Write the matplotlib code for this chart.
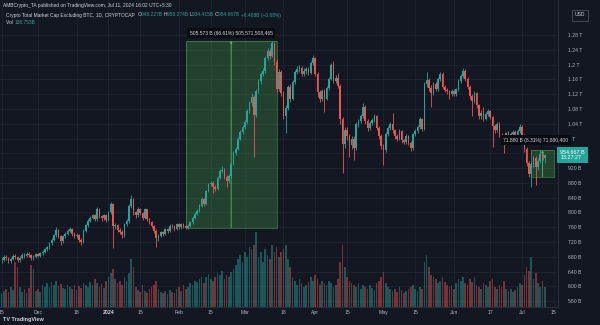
import matplotlib
matplotlib.use("Agg")
import matplotlib.pyplot as plt
from matplotlib.patches import Rectangle
from matplotlib.transforms import IdentityTransform, blended_transform_factory
import numpy as np
import pandas as pd

plt.rcParams['font.family'] = ['Liberation Sans', 'DejaVu Sans']

# daily candles of TOTAL2, values in billions of USD
start_date = "2023-11-15"
first_open = 670.0
closes = [
    672, 680, 676, 668, 674, 683, 679, 671, 677, 685,
    681, 688, 684, 676, 680, 687, 683, 690, 694, 700,
    706, 716, 726, 738, 752, 736, 722, 735, 742, 750,
    755, 742, 735, 738, 726, 720, 750, 765, 778, 786,
    792, 782, 808, 790, 784, 792, 780, 800, 822, 762,
    766, 752, 748, 738, 768, 776, 818, 836, 800, 792,
    810, 798, 786, 808, 782, 774, 763, 750, 730, 737,
    746, 742, 754, 750, 764, 762, 756, 768, 760, 768,
    762, 759, 764, 773, 786, 796, 804, 818, 836, 824,
    858, 876, 880, 868, 864, 894, 912, 916, 896, 886,
    898, 932, 960, 972, 1000, 1018, 1030, 1044, 1075, 1095,
    1112, 1064, 1128, 1155, 1175, 1183, 1218, 1238, 1224, 1258,
    1208, 1135, 1180, 1122, 1062, 1082, 1140, 1108, 1152, 1180,
    1188, 1190, 1175, 1182, 1188, 1178, 1205, 1218, 1176, 1125,
    1108, 1128, 1108, 1136, 1162, 1198, 1156, 1165, 1142, 1052,
    985, 1022, 1006, 982, 1000, 975, 1038, 1048, 1060, 1086,
    1048, 1028, 1042, 1050, 1060, 1028, 1008, 980, 970, 1012,
    1028, 1040, 1022, 1006, 1000, 1020, 995, 990, 1006, 988,
    974, 1012, 1020, 1032, 1052, 1026, 1148, 1158, 1138, 1124,
    1148, 1134, 1162, 1175, 1140, 1132, 1128, 1120, 1129, 1120,
    1133, 1156, 1170, 1183, 1162, 1140, 1115, 1102, 1122, 1090,
    1060, 1070, 1054, 1066, 1074, 1058, 1034, 1022, 1040, 1010,
    1005, 996, 1014, 1002, 1012, 1018, 1006, 1020, 1032, 1008,
    972, 935, 905, 930, 948, 922, 940, 958, 948.227, 954.667,
]
highs = [
    678, 685, 686, 679, 678, 688, 687, 682, 681, 690,
    689, 693, 692, 687, 684, 691, 690, 694, 698, 704,
    710, 720, 731, 742, 760, 756, 740, 739, 747, 754,
    761, 758, 746, 743, 741, 730, 754, 769, 782, 790,
    797, 796, 814, 811, 794, 797, 795, 804, 828, 826,
    772, 770, 758, 752, 772, 781, 822, 847, 840, 805,
    815, 813, 802, 812, 810, 786, 778, 767, 754, 742,
    750, 751, 758, 758, 768, 769, 766, 772, 771, 772,
    771, 766, 768, 777, 790, 800, 809, 822, 841, 840,
    862, 881, 886, 884, 874, 898, 917, 925, 920, 900,
    903, 936, 965, 978, 1005, 1024, 1036, 1050, 1080, 1101,
    1122, 1118, 1134, 1160, 1181, 1192, 1224, 1244, 1246, 1264,
    1262, 1214, 1188, 1186, 1128, 1090, 1146, 1148, 1158, 1186,
    1196, 1198, 1196, 1190, 1194, 1193, 1211, 1226, 1222, 1180,
    1132, 1134, 1134, 1141, 1167, 1204, 1210, 1172, 1178, 1148,
    1058, 1030, 1032, 1012, 1008, 1006, 1044, 1054, 1066, 1095,
    1090, 1054, 1048, 1056, 1066, 1064, 1034, 1013, 986, 1017,
    1034, 1046, 1069, 1027, 1012, 1025, 1024, 1000, 1011, 1010,
    992, 1016, 1025, 1037, 1057, 1056, 1154, 1180, 1164, 1145,
    1153, 1154, 1167, 1181, 1179, 1146, 1137, 1132, 1134, 1134,
    1138, 1161, 1176, 1190, 1187, 1166, 1145, 1120, 1128, 1126,
    1094, 1076, 1085, 1072, 1080, 1078, 1062, 1040, 1045, 1044,
    1016, 1010, 1019, 1020, 1017, 1023, 1022, 1025, 1038, 1036,
    1012, 976, 940, 936, 954, 952, 946, 968, 962, 958.274,
]
lows = [
    664, 668, 670, 662, 664, 670, 674, 665, 667, 673,
    676, 678, 679, 671, 672, 677, 679, 680, 686, 690,
    696, 702, 712, 722, 734, 730, 712, 718, 731, 738,
    746, 737, 730, 731, 721, 712, 716, 746, 761, 773,
    781, 776, 778, 785, 778, 780, 775, 776, 796, 703,
    754, 747, 742, 732, 734, 763, 772, 812, 794, 786,
    788, 793, 780, 782, 777, 768, 758, 745, 706, 724,
    733, 737, 738, 745, 746, 757, 751, 752, 755, 756,
    758, 754, 755, 760, 769, 782, 792, 800, 814, 818,
    820, 854, 871, 852, 858, 860, 890, 907, 890, 869,
    881, 894, 928, 955, 968, 995, 1012, 1025, 1040, 1068,
    1088, 950, 1058, 1122, 1148, 1168, 1178, 1212, 1216, 1220,
    1198, 1125, 1130, 1115, 1052, 1015, 1076, 1100, 1104, 1148,
    1174, 1180, 1168, 1170, 1176, 1172, 1174, 1200, 1168, 1112,
    1100, 1102, 1072, 1103, 1132, 1158, 1150, 1150, 1136, 1040,
    906, 975, 995, 950, 972, 942, 968, 1030, 1042, 1055,
    1040, 1020, 1022, 1036, 1044, 1022, 1000, 972, 928, 964,
    1006, 1022, 1016, 1000, 994, 995, 989, 984, 985, 982,
    966, 968, 1006, 1015, 1027, 1020, 1022, 1140, 1130, 1085,
    1118, 1128, 1130, 1156, 1134, 1126, 1120, 1108, 1115, 1115,
    1116, 1128, 1150, 1165, 1156, 1134, 1108, 1060, 1096, 1084,
    1052, 1054, 1048, 1049, 1060, 1052, 977, 1015, 1017, 1004,
    998, 961, 990, 996, 997, 1006, 1000, 1001, 1015, 1002,
    964, 926, 896, 869, 924, 874, 916, 935, 942, 934.415,
]
volumes = [
    98, 112, 126, 105, 140, 119, 315, 280, 140, 105,
    126, 98, 133, 294, 266, 112, 126, 105, 154, 140,
    168, 140, 175, 154, 182, 147, 161, 133, 126, 154,
    140, 126, 154, 119, 147, 133, 168, 154, 140, 175,
    154, 196, 168, 140, 161, 133, 182, 210, 238, 266,
    196, 168, 182, 154, 210, 182, 238, 336, 280, 140,
    119, 105, 154, 112, 98, 126, 140, 154, 182, 126,
    105, 98, 112, 91, 119, 105, 98, 126, 140, 112,
    154, 126, 140, 168, 154, 182, 175, 196, 210, 168,
    210, 231, 196, 182, 210, 238, 224, 252, 196, 224,
    210, 245, 266, 294, 336, 364, 315, 385, 350, 420,
    406, 434, 525, 350, 385, 315, 406, 364, 336, 434,
    385, 420, 350, 385, 406, 434, 336, 280, 210, 182,
    154, 196, 168, 140, 154, 175, 210, 182, 224, 196,
    154, 182, 168, 154, 182, 168, 140, 154, 196, 315,
    434, 280, 210, 182, 168, 154, 140, 168, 126, 154,
    140, 126, 154, 133, 119, 168, 182, 210, 245, 168,
    140, 126, 112, 126, 105, 140, 119, 98, 112, 126,
    140, 154, 126, 112, 140, 126, 315, 364, 280, 224,
    210, 196, 168, 182, 210, 175, 154, 140, 154, 126,
    168, 196, 182, 210, 168, 154, 196, 175, 210, 154,
    140, 126, 168, 154, 140, 182, 196, 140, 126, 154,
    140, 182, 126, 112, 126, 105, 119, 140, 168, 154,
    224, 280, 252, 350, 196, 238, 168, 140, 182, 138.753,
]

# 960 B sits under the last-price tag, so it has no visible label
price_ticks = [560, 600, 640, 680, 720, 760, 800, 840, 880, 920,
               960, 1000, 1040, 1080, 1120, 1160, 1200, 1240, 1280]
price_labels = ["560 B", "600 B", "640 B", "680 B", "720 B", "760 B", "800 B",
                "840 B", "880 B", "920 B", "", "1 T", "1.04 T", "1.08 T",
                "1.12 T", "1.16 T", "1.2 T", "1.24 T", "1.28 T"]
tick_dates = ["2023-11-15", "2023-12-01", "2023-12-18", "2024-01-01", "2024-01-15",
              "2024-02-01", "2024-02-15", "2024-03-01", "2024-03-18", "2024-04-01",
              "2024-04-15", "2024-05-01", "2024-05-15", "2024-06-01", "2024-06-17",
              "2024-07-01", "2024-07-15"]
tick_labels = ["15", "Dec", "18", "2024", "15", "Feb", "15", "Mar", "18", "Apr",
               "15", "May", "15", "Jun", "17", "Jul", "15"]

# price range measurements drawn on the chart
range_starts = ["2024-02-04", "2024-07-05"]
range_ends = ["2024-03-15", "2024-07-15"]
range_lows = [758.9, 896.4]
range_highs = [1264.5, 968.3]
range_labels = ["505.573 B (66.61%) 505,571,508,465", "71.880 B (8.31%) 71,880,400"]

last_price = 954.667
last_vol = "138.753B"

up_color = "#26a69a"
down_color = "#ef5350"
bg = "#131722"
grid_color = "#1f2330"
text_color = "#b2b5be"
W, H = 600, 325

dates = pd.date_range(start_date, periods=len(closes), freq="D")
x = np.asarray((dates - dates[0]).days, dtype=float)
c = np.array(closes, dtype=float)
o = np.concatenate([[first_open], c[:-1]])
h = np.array(highs, dtype=float)
l = np.array(lows, dtype=float)
colors = np.where(c >= o, up_color, down_color)


def day_pos(d):
    return (pd.Timestamp(d) - dates[0]).days


fig = plt.figure(figsize=(W / 100, H / 100), dpi=100, facecolor=bg)
ax = fig.add_axes([0, 18 / H, 558 / W, 307 / H])
vax = ax.twinx()
ax.set_zorder(vax.get_zorder() + 1)
ax.patch.set_visible(False)
vax.set_facecolor(bg)

ax.set_xlim(-0.7, 244.8)
ax.set_ylim(544, 1375)

# grid (drawn on the lower axes so it sits under the volume bars)
tick_x = [day_pos(d) for d in tick_dates]
hgrid = blended_transform_factory(vax.transAxes, ax.transData)
vax.hlines(price_ticks, 0, 1, transform=hgrid, color=grid_color, lw=0.6, zorder=0)
for tx in tick_x:
    vax.axvline(tx, color=grid_color, lw=0.6, zorder=0)

# volume
vax.bar(x, volumes, width=0.72, color=colors, alpha=0.45, linewidth=0, zorder=1)
vax.set_ylim(0, 307 * 7)
vax.set_yticks([])
for s in vax.spines.values():
    s.set_visible(False)

# range boxes
for s0, s1, lo, hi in zip(range_starts, range_ends, range_lows, range_highs):
    x0, x1 = day_pos(s0), day_pos(s1)
    ax.add_patch(Rectangle((x0, lo), x1 - x0, hi - lo, facecolor="#4caf50", alpha=0.28,
                           edgecolor="none", zorder=2))
    ax.add_patch(Rectangle((x0, lo), x1 - x0, hi - lo, facecolor="none",
                           edgecolor="#4caf50", alpha=0.6, lw=0.6, zorder=2))
    xm = (x0 + x1) / 2
    ax.annotate("", xy=(xm, hi), xytext=(xm, lo),
                arrowprops=dict(arrowstyle="-|>", color="#5cb860", lw=0.6,
                                mutation_scale=3, shrinkA=0, shrinkB=0), zorder=2)

ax.text((day_pos(range_starts[0]) + day_pos(range_ends[0])) / 2, 1285, range_labels[0],
        ha="center", va="center", fontsize=3.6, color="#d1d4dc", zorder=6,
        bbox=dict(boxstyle="square,pad=0.5", fc="#0b0d13", ec="none"))
ax.text((day_pos(range_starts[1]) + day_pos(range_ends[1])) / 2 - 3, 995, range_labels[1],
        ha="center", va="center", fontsize=3.6, color="#d1d4dc", zorder=6, clip_on=False,
        bbox=dict(boxstyle="square,pad=0.5", fc="#0b0d13", ec="none"))

# candles
ax.vlines(x, l, h, colors=colors, lw=0.6, zorder=3)
ax.bar(x, np.maximum(np.abs(c - o), 1.5), bottom=np.minimum(o, c), width=0.72,
       color=colors, linewidth=0, zorder=4)

# axes styling
ax.yaxis.tick_right()
ax.set_yticks(price_ticks, price_labels)
ax.tick_params(axis="y", length=0, pad=7, labelsize=3.7, labelcolor=text_color)
ax.set_xticks(tick_x, tick_labels)
ax.tick_params(axis="x", length=0, pad=2.5, labelsize=3.7, labelcolor=text_color)
for lab in ax.get_xticklabels():
    if lab.get_text() == "2024":
        lab.set_fontweight("bold")
        lab.set_color("#d1d4dc")
for name, s in ax.spines.items():
    s.set_visible(name in ("right", "bottom"))
    s.set_color("#2a2e39")
    s.set_linewidth(0.8)

# last price tag on the price scale
tag = blended_transform_factory(ax.transAxes, ax.transData)
ax.text(1.004, last_price, f"{last_price:.3f} B\n13:27:27", transform=tag, ha="left",
        va="center", fontsize=3.9, color="white", linespacing=1.1, zorder=7, clip_on=False,
        bbox=dict(boxstyle="square,pad=0.55", fc=up_color, ec="none"))


def draw_pieces(x_px, y_px, pieces, size):
    renderer = fig.canvas.get_renderer()
    for s, col in pieces:
        t = fig.text(x_px, H - y_px, s, color=col, fontsize=size, ha="left", va="center",
                     transform=IdentityTransform())
        x_px += t.get_window_extent(renderer).width


draw_pieces(3, 5, [("AMBCrypto_TA published on TradingView.com, Jul 11, 2024 16:02 UTC+5:30", "#d1d4dc")], 3.5)
draw_pieces(6, 15, [("Crypto Total Market Cap Excluding BTC, 1D, CRYPTOCAP  ", "#d1d4dc"),
                    ("O", "#d1d4dc"), ("948.227B ", up_color),
                    ("H", "#d1d4dc"), ("958.274B ", up_color),
                    ("L", "#d1d4dc"), ("934.415B ", up_color),
                    ("C", "#d1d4dc"), ("954.667B ", up_color),
                    ("+6.488B (+0.68%)", up_color)], 3.5)
draw_pieces(6, 22, [("Vol ", "#d1d4dc"), (last_vol, up_color)], 3.5)

fig.text(580 / W, 1 - 15 / H, "USD", ha="center", va="center", fontsize=3.6, color="#d1d4dc",
         bbox=dict(boxstyle="square,pad=0.6", fc=bg, ec="#50535e", lw=0.6))
fig.text(3 / W, 1 - 320 / H, "TV TradingView", ha="left", va="center", fontsize=4,
         fontweight="bold", color="#d1d4dc")

fig.savefig("out.png", dpi=100, facecolor=bg)
